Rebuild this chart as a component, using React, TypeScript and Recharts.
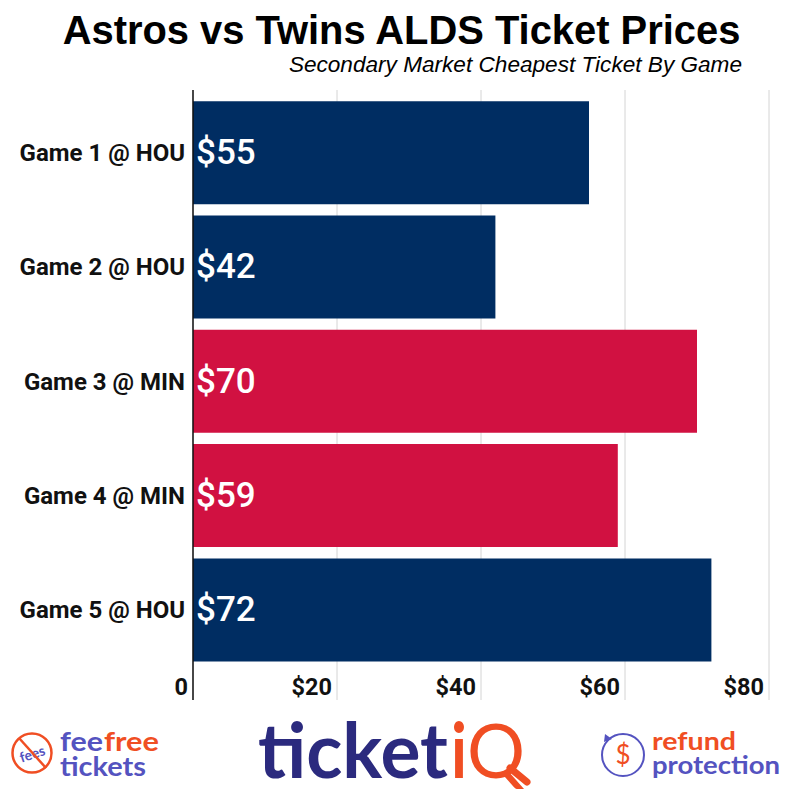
import { BarChart, Bar, XAxis, YAxis, CartesianGrid, Cell, LabelList } from 'recharts'

const GAMES = ['Game 1 @ HOU', 'Game 2 @ HOU', 'Game 3 @ MIN', 'Game 4 @ MIN', 'Game 5 @ HOU']
const PRICES = [55, 42, 70, 59, 72]
const HOSTS = ['HOU', 'HOU', 'MIN', 'MIN', 'HOU']
const PRICE_TICKS = [0, 20, 40, 60, 80]

const HOST_COLORS: Record<string, string> = { HOU: '#002D62', MIN: '#D11141' }
const PURPLE = '#5453C0'
const ORANGE = '#F04E23'
const DARK = '#2B2A7E'

const chartData = GAMES.map((game, i) => ({ game, price: PRICES[i], host: HOSTS[i] }))

// value labels sit in the strip under the bars, right-aligned to their grid line
function PriceTick({ x, payload }: any) {
    return (
        <text x={x - 5} y={695} textAnchor="end" fontFamily="Roboto" fontWeight={700} fontSize={23.5} fill="#111">
            {payload.value === 0 ? '0' : `$${payload.value}`}
        </text>
    )
}

function Logos() {
    const logoFont = 'Lato'
    return (
        <svg width={800} height={120} viewBox="0 680 800 120" style={{ position: 'absolute', left: 0, top: 680, pointerEvents: 'none' }}>
            {/* fee free tickets */}
            <circle cx={32} cy={753} r={19.5} fill="none" stroke={ORANGE} strokeWidth={2.5} />
            <text x={32} y={759} textAnchor="middle" fontFamily={logoFont} fontWeight={700} fontSize={14} fill={PURPLE} transform="rotate(-18 32 753)">fees</text>
            <line x1={19} y1={738} x2={46} y2={768} stroke={ORANGE} strokeWidth={2.5} />
            <text x={60} y={751} fontFamily={logoFont} fontWeight={700} fontSize={26} fill={PURPLE} textLength={43} lengthAdjust="spacingAndGlyphs">fee</text>
            <text x={104} y={751} fontFamily={logoFont} fontWeight={700} fontSize={26} fill={ORANGE} textLength={55} lengthAdjust="spacingAndGlyphs">free</text>
            <text x={60} y={776} fontFamily={logoFont} fontWeight={700} fontSize={26} fill={PURPLE} textLength={86} lengthAdjust="spacingAndGlyphs">tickets</text>

            {/* ticketIQ */}
            <text x={258} y={778} fontFamily={logoFont} fontWeight={700} fontSize={76} fill={DARK} textLength={190} lengthAdjust="spacingAndGlyphs">ticket</text>
            <text x={451} y={778} fontFamily={logoFont} fontWeight={700} fontSize={76} fill={ORANGE} textLength={16} lengthAdjust="spacingAndGlyphs">i</text>
            <text x={467} y={778} fontFamily={logoFont} fontWeight={400} fontSize={76} fill={ORANGE} textLength={58} lengthAdjust="spacingAndGlyphs">Q</text>
            <line x1={510} y1={768} x2={527} y2={782} stroke={ORANGE} strokeWidth={7} strokeLinecap="round" />

            {/* refund protection */}
            <circle cx={623} cy={755} r={21} fill="none" stroke={PURPLE} strokeWidth={2} />
            <path d="M604 742 l1 -8 l7 5 z" fill={PURPLE} />
            <text x={623} y={764} textAnchor="middle" fontFamily={logoFont} fontSize={26} fill={ORANGE}>$</text>
            <text x={652} y={750} fontFamily={logoFont} fontWeight={700} fontSize={25} fill={ORANGE} textLength={84} lengthAdjust="spacingAndGlyphs">refund</text>
            <text x={652} y={774} fontFamily={logoFont} fontWeight={700} fontSize={25} fill={PURPLE} textLength={128} lengthAdjust="spacingAndGlyphs">protection</text>
        </svg>
    )
}

export default function App() {
    return (
        <div style={{ position: 'absolute', left: 0, top: 0, width: 800, height: 800, background: '#fff', overflow: 'hidden' }}>
            <div style={{ position: 'absolute', left: 0, width: 803, top: 7, textAlign: 'center', fontFamily: 'Liberation Sans', fontWeight: 700, fontSize: 39.9, lineHeight: '46px', color: '#000', whiteSpace: 'nowrap' }}>
                Astros vs Twins ALDS Ticket Prices
            </div>
            <div style={{ position: 'absolute', right: 58, top: 52, fontFamily: 'Liberation Sans', fontStyle: 'italic', fontSize: 22.6, lineHeight: '26px', color: '#000', whiteSpace: 'nowrap' }}>
                Secondary Market Cheapest Ticket By Game
            </div>
            <BarChart
                width={800}
                height={800}
                data={chartData}
                layout="vertical"
                barCategoryGap="5%"
                margin={{ top: 90, right: 31, bottom: 99, left: 0 }}
                style={{ position: 'absolute', left: 0, top: 0 }}
            >
                <CartesianGrid horizontal={false} stroke="#D4D4D4" strokeWidth={1} />
                <XAxis
                    type="number"
                    domain={[0, 80]}
                    ticks={PRICE_TICKS}
                    height={1}
                    axisLine={false}
                    tickLine={false}
                    tick={(props: any) => <PriceTick {...props} />}
                    interval={0}
                />
                <YAxis
                    type="category"
                    dataKey="game"
                    width={193}
                    padding={{ top: 5.5, bottom: 33 }}
                    axisLine={{ stroke: '#111', strokeWidth: 1.5 }}
                    tickLine={false}
                    tickMargin={2}
                    interval={0}
                    tick={{ fontFamily: 'Roboto', fontWeight: 700, fontSize: 24, fill: '#111' }}
                />
                <Bar dataKey="price" isAnimationActive={false}>
                    {chartData.map(d => (
                        <Cell key={d.game} fill={HOST_COLORS[d.host]} />
                    ))}
                    <LabelList
                        dataKey="price"
                        position="insideLeft"
                        offset={3}
                        dy={-1}
                        formatter={(v: any) => `$${v}`}
                        fill="#fff"
                        fontFamily="Roboto"
                        fontWeight={500}
                        fontSize={35}
                    />
                </Bar>
            </BarChart>
            <Logos />
        </div>
    )
}
